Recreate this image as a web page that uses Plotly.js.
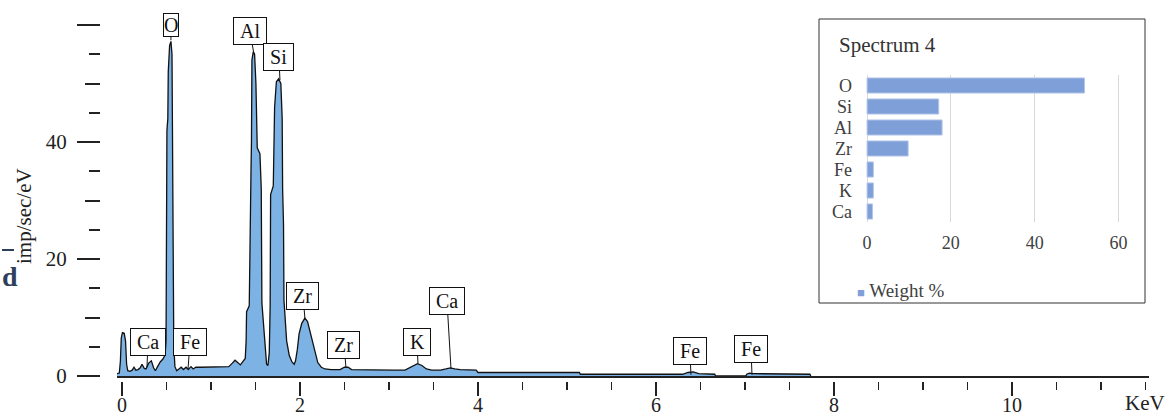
<!DOCTYPE html>
<html>
<head>
<meta charset="utf-8">
<script src="https://cdn.plot.ly/plotly-3.0.1.min.js"></script>
<style>html,body{margin:0;padding:0;background:#fff;}#chart{width:1170px;height:417px;}</style>
</head>
<body>
<div id="chart"></div>
<script>
// EDS spectrum (keV vs imp/sec/eV)
const energy = [-0.056,-0.03,-0.018,-0.008,0.005,0.025,0.04,0.052,0.065,0.09,0.115,0.135,0.155,0.18,0.205,0.225,0.25,0.27,0.30,0.33,0.355,0.375,0.40,0.43,0.46,0.485,0.495,0.50,0.505,0.515,0.52,0.535,0.55,0.562,0.568,0.575,0.582,0.595,0.615,0.64,0.665,0.69,0.72,0.745,0.775,0.80,0.83,0.88,1.00,1.10,1.20,1.24,1.27,1.30,1.33,1.36,1.385,1.395,1.40,1.43,1.44,1.45,1.455,1.46,1.475,1.49,1.505,1.515,1.52,1.55,1.565,1.572,1.595,1.61,1.625,1.64,1.655,1.665,1.67,1.70,1.715,1.735,1.76,1.785,1.80,1.805,1.815,1.82,1.85,1.88,1.91,1.935,1.95,1.97,1.99,2.02,2.055,2.085,2.11,2.14,2.17,2.20,2.24,2.28,2.35,2.45,2.50,2.54,2.58,2.80,3.05,3.18,3.22,3.27,3.32,3.37,3.42,3.48,3.58,3.64,3.69,3.74,3.80,3.98,4.00,4.60,5.14,5.15,5.80,6.30,6.36,6.42,6.48,6.66,6.67,7.01,7.02,7.05,7.09,7.73,7.74];
const counts = [0.4,0.5,2.5,6.5,7.4,7.3,6.0,2.0,0.9,0.8,1.0,1.5,1.0,1.1,1.4,2.0,1.3,1.2,2.2,2.6,1.4,0.9,1.6,2.4,2.9,3.6,6,20,42,44,52,56.5,57.2,55,42,18,5,1.6,0.9,1.2,1.5,1.1,1.5,1.1,1.6,1.2,1.5,1.5,1.5,1.5,1.6,2.2,2.7,2.3,1.9,2.5,3.0,6,11,12,30,35.5,40,54,55.4,55,50,42,39,38,32,12.5,8,4,2.0,1.8,4,12,31,32.5,46,50.3,50.8,50,44,32,26,13,6,3.5,2.4,2.0,2.6,4.5,7.2,9.0,9.9,9.3,7.8,6.0,3.8,2.3,1.5,1.2,1.1,1.1,1.5,1.5,1.1,1.0,1.0,1.0,1.3,1.8,2.1,1.8,1.2,1.0,1.0,1.2,1.4,1.2,1.1,1.0,0.6,0.6,0.6,0.3,0.3,0.3,0.6,0.7,0.4,0.3,0,0,0.3,0.5,0.4,0.3,0];

// Peak labels: element, energy (keV), height at pointer tip, box offset (px)
const peakLabels = ['O','Al','Si','Zr','Zr','K','Ca','Ca','Fe','Fe','Fe'];
const peakEnergy = [0.55,1.483,1.775,2.056,2.517,3.326,3.697,0.281,0.742,6.393,7.079];
const peakTip    = [57.4,55.0,50.6,9.8,1.4,2.1,1.2,1.5,1.2,0.2,0.2];
const peakAx     = [0,-4,-1,-2,-2,-1,-4,1,2,-1,-1];
const peakAy     = [-15,-23,-23,-23,-23,-22,-68,-25,-27,-24,-26];

// Inset: Spectrum 4 weight %
const elements = ['O','Si','Al','Zr','Fe','K','Ca'];
const weightPct = [51.9,17.1,17.9,9.8,1.5,1.5,1.3];
const seriesName = 'Weight %';

const xTickVals = [0,2,4,6,8,10];
const yTickVals = [0,20,40,60];
const yTickText = ['0','20','40',''];
const yMidTicks = [10,30,50];
const insetTicks = [0,20,40,60];

const SERIF = '"Liberation Serif", "DejaVu Serif", serif';
const BAR = '#7f9fd8';
const TS = '\u2009';

const traces = [
  {x: energy, y: counts, xaxis:'x', yaxis:'y', type:'scatter', mode:'lines', fill:'tozeroy',
   fillcolor:'#7db3e4', line:{color:'#111', width:1.3}, hoverinfo:'skip', showlegend:false},
  {x: energy, y: counts, xaxis:'x2', yaxis:'y', type:'scatter', mode:'lines',
   line:{color:'rgba(0,0,0,0)', width:0}, hoverinfo:'skip', showlegend:false},
  {x: energy, y: counts, xaxis:'x', yaxis:'y2', type:'scatter', mode:'lines',
   line:{color:'rgba(0,0,0,0)', width:0}, hoverinfo:'skip', showlegend:false},
  {type:'bar', orientation:'h', x: weightPct, y: elements, xaxis:'x3', yaxis:'y3', name:seriesName,
   marker:{color:BAR, line:{color:'#b4c7ea', width:1}}, width:0.72, hoverinfo:'skip', showlegend:false}
];

const W = 1049, H = 371;
const xr = [-0.056, 11.54];
const yr = [0, 62.57];

const annotations = [];
for (let i = 0; i < peakLabels.length; i++) {
  const isO = peakLabels[i] === 'O';
  annotations.push({
    xref:'x', yref:'y', x: peakEnergy[i], y: peakTip[i], text: isO ? peakLabels[i] : TS + peakLabels[i] + TS,
    showarrow:true, arrowhead:0, arrowwidth:1, arrowcolor:'#111', ax: peakAx[i], ay: peakAy[i],
    bgcolor:'#fff', bordercolor:'#111', borderwidth:1, borderpad: (isO ? 0 : 2),
    font:{family:SERIF, size:20, color:'#111'}
  });
}
annotations.push({xref:'paper', yref:'paper', x:(837-100)/W, y:(381-45)/H, xanchor:'left', yanchor:'middle',
  text:'Spectrum 4', showarrow:false, font:{family:SERIF, size:21, color:'#333'}});
annotations.push({xref:'paper', yref:'paper', x:(855-100)/W, y:(381-290)/H, xanchor:'left', yanchor:'middle',
  text:'<span style="color:' + BAR + ';font-size:13px">■</span> ' + seriesName, showarrow:false,
  font:{family:SERIF, size:19, color:'#404040'}});
annotations.push({xref:'paper', yref:'paper', x:(24-100)/W, y:(381-216)/H, xanchor:'center', yanchor:'middle',
  text:'imp/sec/eV', textangle:-90, showarrow:false, font:{family:SERIF, size:21, color:'#222'}});
annotations.push({xref:'paper', yref:'paper', x:(10-100)/W, y:(381-276)/H, xanchor:'center', yanchor:'middle',
  text:'<b>d</b>', showarrow:false, font:{family:SERIF, size:28, color:'#2e3f5c'}});
annotations.push({xref:'x2', yref:'paper', x:11.5, y:(381-403)/H, xanchor:'center', yanchor:'middle',
  text:'KeV', showarrow:false, font:{family:SERIF, size:21, color:'#222'}});

const layout = {
  width:1170, height:417,
  margin:{l:100, r:21, t:10, b:36},
  paper_bgcolor:'#fff', plot_bgcolor:'rgba(0,0,0,0)',
  font:{family:SERIF, color:'#222'},
  showlegend:false,
  xaxis:{domain:[17/W, 1], range:xr, anchor:'y', showline:true, linecolor:'#222', linewidth:1.5,
         ticks:'', showticklabels:false, showgrid:false, zeroline:false, fixedrange:true},
  xaxis2:{overlaying:'x', anchor:'free', position:0, range:xr, showline:false,
          tickmode:'array', tickvals:xTickVals, ticks:'outside', ticklen:14, tickwidth:1.5, tickcolor:'#222',
          minor:{dtick:0.5, tick0:0, ticks:'outside', ticklen:8, tickwidth:1.5, tickcolor:'#222'},
          ticklabelstandoff:-8,
          tickfont:{family:SERIF, size:20, color:'#222'}, showgrid:false, zeroline:false, fixedrange:true},
  yaxis:{domain:[5/H, 1], range:yr, anchor:'free', position:0, side:'left',
         tickmode:'array', tickvals:yTickVals, ticktext:yTickText, ticks:'outside', ticklen:23, tickwidth:2, tickcolor:'#222',
         minor:{dtick:5, tick0:0, ticks:'outside', ticklen:11, tickwidth:2, tickcolor:'#222'},
         ticklabelstandoff:6, tickfont:{family:SERIF, size:21, color:'#222'},
         showline:false, showgrid:false, zeroline:false, fixedrange:true},
  yaxis2:{overlaying:'y', anchor:'free', position:0, side:'left', range:yr,
          tickmode:'array', tickvals:yMidTicks, ticks:'outside', ticklen:15, tickwidth:2, tickcolor:'#222',
          showticklabels:false, showline:false, showgrid:false, zeroline:false, fixedrange:true},
  xaxis3:{domain:[(865-100)/W, (1131-100)/W], anchor:'y3', range:[-0.5, 63], tickmode:'array', tickvals:insetTicks,
          showgrid:true, gridcolor:'#d9d9d9', gridwidth:1, zeroline:false, showline:false, ticks:'',
          ticklabelstandoff:8, tickfont:{family:SERIF, size:18, color:'#404040'}, fixedrange:true},
  yaxis3:{domain:[(381-222)/H, (381-75)/H], anchor:'x3', type:'category', categoryorder:'array', categoryarray:elements,
          tickmode:'array', tickvals:elements, ticktext:elements,
          autorange:'reversed', showgrid:false, zeroline:false, showline:false, ticks:'', ticklabelstandoff:12,
          tickfont:{family:SERIF, size:18, color:'#404040'}, fixedrange:true},
  bargap:0.28,
  shapes:[
    {type:'rect', xref:'paper', yref:'paper', x0:(819-100)/W, x1:(1145-100)/W, y0:(381-303)/H, y1:(381-19)/H,
     line:{color:'#333', width:1}, fillcolor:'#fff', layer:'below'},
    {type:'line', xref:'paper', yref:'paper', x0:(2-100)/W, x1:(14-100)/W, y0:(381-250)/H, y1:(381-250)/H,
     line:{color:'#2e3f5c', width:2}}
  ],
  annotations:annotations
};

Plotly.newPlot('chart', traces, layout, {displayModeBar:false, staticPlot:true});
</script>
</body>
</html>
